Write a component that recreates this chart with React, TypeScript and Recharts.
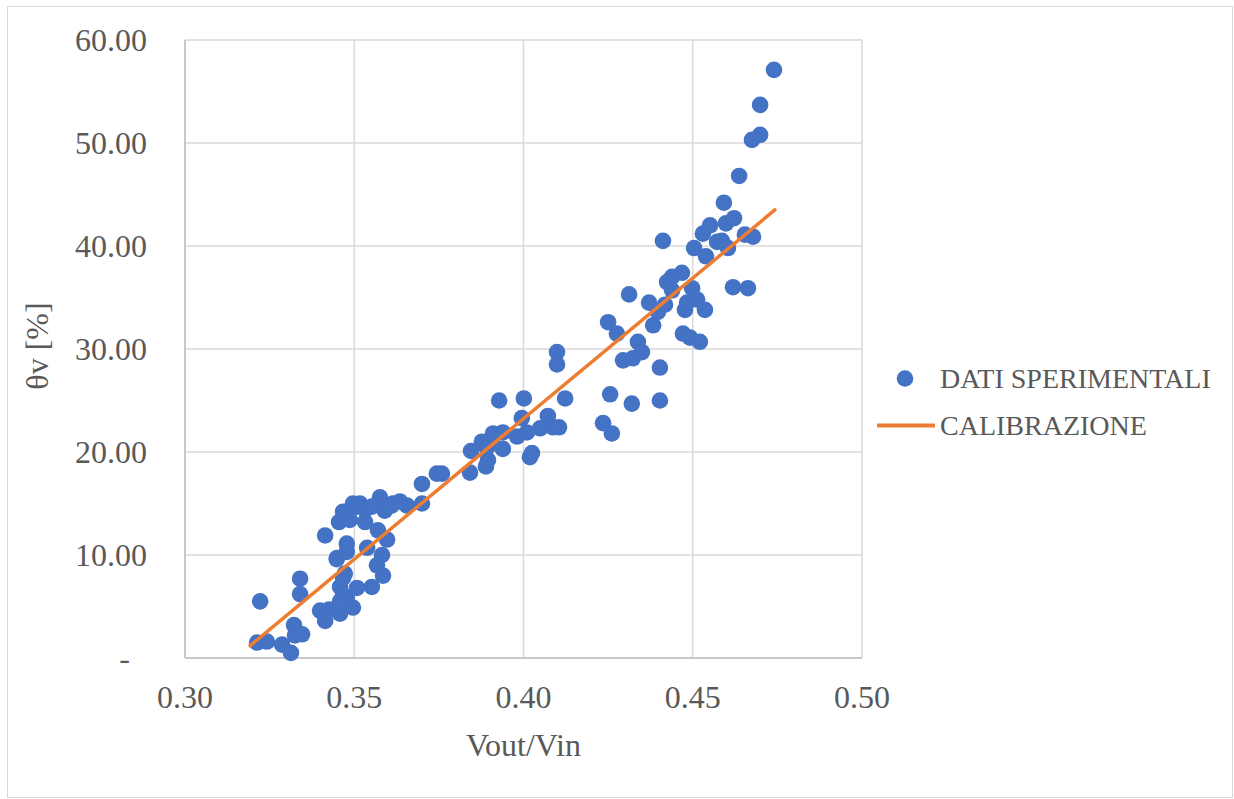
import {
  CartesianGrid,
  Scatter,
  ScatterChart,
  XAxis,
  YAxis,
} from "recharts";

// Vout/Vin ratio vs measured volumetric water content (%)
const vOutVin = [
  0.3222, 0.3213, 0.3242, 0.3287, 0.3313, 0.3322, 0.3325, 0.3346, 0.334, 0.334,
  0.3399, 0.3414, 0.3425, 0.3458, 0.3414, 0.3449, 0.3478, 0.3478, 0.3455, 0.3467,
  0.3496, 0.3517, 0.3532, 0.3538, 0.3576, 0.357, 0.3597, 0.3582, 0.3567, 0.3585,
  0.3552, 0.3496, 0.3478, 0.3467, 0.3458, 0.3508, 0.3614, 0.3635, 0.3656, 0.37,
  0.37, 0.3744, 0.3759, 0.3487, 0.3508, 0.3532, 0.3552, 0.359, 0.361, 0.3467,
  0.3458, 0.3472, 0.3448,
  0.3842, 0.3845, 0.3877, 0.3889, 0.3895, 0.3892, 0.3907, 0.391, 0.3939, 0.3939,
  0.3928, 0.3981, 0.3995, 0.4001, 0.401, 0.4019, 0.4025, 0.4049, 0.4072, 0.4087,
  0.4105, 0.4099, 0.4099, 0.4123, 0.4235, 0.4261, 0.4256, 0.425, 0.4276, 0.4294,
  0.4312, 0.432, 0.4323, 0.4338, 0.435, 0.4371, 0.4383, 0.4397, 0.4403, 0.4403,
  0.4412, 0.4418, 0.4424, 0.4439, 0.4439, 0.4468, 0.4471, 0.4477, 0.4483, 0.4492,
  0.4498, 0.4504, 0.4513, 0.4521, 0.453, 0.4536, 0.4539, 0.4551, 0.4572, 0.4586,
  0.4592, 0.4598, 0.4604, 0.4619, 0.4622, 0.4637, 0.4654, 0.4663, 0.4675, 0.4678,
  0.4699, 0.4699, 0.474,
];
const thetaV = [
  5.5, 1.5, 1.6, 1.3, 0.5, 3.2, 2.2, 2.3, 7.7, 6.2,
  4.6, 3.6, 4.7, 4.3, 11.9, 9.7, 11.1, 10.3, 13.2, 14.2,
  15.0, 15.0, 13.2, 10.7, 15.6, 12.4, 11.5, 10.0, 9.0, 8.0,
  6.9, 4.9, 5.9, 7.8, 6.9, 6.8, 15.0, 15.2, 14.8, 16.9,
  15.0, 17.9, 17.9, 13.4, 14.7, 14.4, 14.7, 14.3, 14.8, 6.1,
  5.5, 8.2, 9.6,
  18.0, 20.1, 21.0, 18.6, 19.2, 20.4, 21.2, 21.8, 21.9, 20.3,
  25.0, 21.5, 23.3, 25.2, 21.9, 19.5, 19.9, 22.3, 23.5, 22.4,
  22.4, 29.7, 28.5, 25.2, 22.8, 21.8, 25.6, 32.6, 31.5, 28.9,
  35.3, 24.7, 29.1, 30.7, 29.7, 34.5, 32.3, 33.6, 28.2, 25.0,
  40.5, 34.3, 36.5, 37.0, 35.7, 37.4, 31.5, 33.8, 34.5, 31.1,
  35.9, 39.8, 34.8, 30.7, 41.2, 33.8, 39.0, 42.0, 40.4, 40.5,
  44.2, 42.2, 39.8, 36.0, 42.7, 46.8, 41.1, 35.9, 50.3, 40.9,
  50.8, 53.7, 57.1,
];

// calibration line end points
const calibX = [0.3189, 0.4746];
const calibY = [1.1, 43.6];

const xTicks = [0.3, 0.35, 0.4, 0.45, 0.5];
const yTicks = [0, 10, 20, 30, 40, 50, 60];

const FONT = '"Liberation Serif", "Times New Roman", serif';
const TEXT = "#595959";
const BLUE = "#4472C4";
const ORANGE = "#ED7D31";

const measured = vOutVin.map((x, i) => ({ x, y: thetaV[i] }));
const calibration = calibX.map((x, i) => ({ x, y: calibY[i] }));

function YTick(props: any) {
  const { x, y, payload } = props;
  const v = payload.value as number;
  return (
    <text
      x={v === 0 ? x - 17 : x}
      y={y}
      dy="0.35em"
      textAnchor="end"
      fill={TEXT}
      fontSize={32}
      fontFamily={FONT}
    >
      {v === 0 ? "-" : v.toFixed(2)}
    </text>
  );
}

function XTick(props: any) {
  const { x, y, payload } = props;
  return (
    <text x={x} y={y} dy="0.71em" textAnchor="middle" fill={TEXT} fontSize={32} fontFamily={FONT}>
      {(payload.value as number).toFixed(2)}
    </text>
  );
}

function YTitle(props: any) {
  const vb = props.viewBox;
  const cx = 37 - 8;
  const cy = vb.y + vb.height / 2 - 3;
  return (
    <text
      x={cx}
      y={cy}
      transform={`rotate(-90 ${cx} ${cy})`}
      textAnchor="middle"
      dy="0.35em"
      fill={TEXT}
      fontSize={32}
      fontFamily={FONT}
    >
      θv [%]
    </text>
  );
}

function LegendBox() {
  const row = { display: "flex", alignItems: "center", height: 47 } as const;
  const label = { fontFamily: FONT, fontSize: 28, color: TEXT, whiteSpace: "nowrap" } as const;
  return (
    <div style={{ position: "absolute", left: 869, top: 348 }}>
      <div style={row}>
        <svg width={63} height={47}>
          <circle cx={28} cy={23.5} r={8.3} fill={BLUE} />
        </svg>
        <span style={label}>DATI SPERIMENTALI</span>
      </div>
      <div style={row}>
        <svg width={63} height={47}>
          <line x1={0} x2={58} y1={23.5} y2={23.5} stroke={ORANGE} strokeWidth={4} />
        </svg>
        <span style={label}>CALIBRAZIONE</span>
      </div>
    </div>
  );
}

export default function App() {
  return (
    <div
      style={{
        position: "absolute",
        left: 7,
        top: 6,
        width: 1224,
        height: 790,
        border: "1px solid #d9d9d9",
        background: "#fff",
      }}
    >
      <ScatterChart width={1224} height={790} margin={{ top: 33, right: 370, bottom: 39, left: 0 }}>
        <CartesianGrid stroke="#d9d9d9" strokeWidth={1.5} />
        <XAxis
          type="number"
          dataKey="x"
          domain={[0.3, 0.5]}
          ticks={xTicks}
          tick={<XTick />}
          tickLine={false}
          tickSize={0}
          tickMargin={27}
          height={100}
          axisLine={{ stroke: "#c8c8c8", strokeWidth: 2 }}
          label={{
            value: "Vout/Vin",
            position: "insideBottom",
            offset: 2,
            fill: TEXT,
            fontSize: 32,
            fontFamily: FONT,
          }}
        />
        <YAxis
          type="number"
          dataKey="y"
          domain={[0, 60]}
          ticks={yTicks}
          tick={<YTick />}
          tickLine={false}
          tickSize={0}
          tickMargin={38}
          width={177}
          axisLine={{ stroke: "#c8c8c8", strokeWidth: 2 }}
          label={<YTitle />}
        />
        <Scatter
          name="DATI SPERIMENTALI"
          data={measured}
          fill={BLUE}
          isAnimationActive={false}
          shape={(p: any) => <circle cx={p.cx} cy={p.cy} r={8.3} fill={BLUE} />}
        />
        <Scatter
          name="CALIBRAZIONE"
          data={calibration}
          fill={ORANGE}
          line={{ stroke: ORANGE, strokeWidth: 3.5 }}
          lineType="joint"
          isAnimationActive={false}
          shape={() => <g />}
        />
      </ScatterChart>
      <LegendBox />
    </div>
  );
}
